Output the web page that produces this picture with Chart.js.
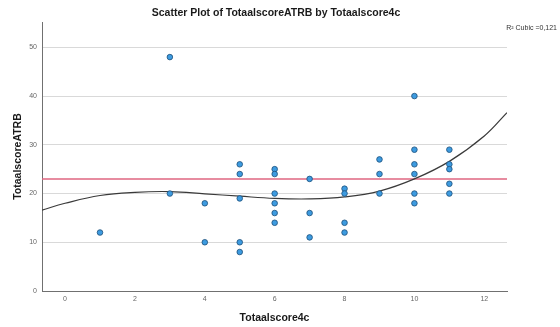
<!DOCTYPE html>
<html>
<head>
<meta charset="utf-8">
<script src="https://cdn.jsdelivr.net/npm/chart.js@4.4.1/dist/chart.umd.min.js"></script>
<style>
  html, body { margin: 0; padding: 0; background: #ffffff; }
  #wrap { width: 560px; height: 327px; }
</style>
</head>
<body>
<div id="wrap"><canvas id="chart" width="560" height="327"></canvas></div>
<script>
// Observations: Totaalscore4c (x) against TotaalscoreATRB (y)
const scoreX = [1, 3, 3, 4, 4, 5, 5, 5, 5, 5, 6, 6, 6, 6, 6, 6, 7, 7, 7, 8, 8, 8, 8, 9, 9, 9, 10, 10, 10, 10, 10, 10, 11, 11, 11, 11, 11];
const scoreY = [12, 48, 20, 18, 10, 26, 24, 19, 10, 8, 25, 24, 20, 18, 16, 14, 23, 16, 11, 21, 20, 14, 12, 27, 24, 20, 40, 29, 26, 24, 20, 18, 29, 26, 25, 22, 20];

// Cubic fit line, sampled along the x range
const fitX = [-0.66, 0, 1, 2, 3, 4, 5, 6, 7, 8, 9, 10, 11, 12, 12.65];
const fitY = [16.6, 18.0, 19.6, 20.25, 20.4, 19.95, 19.45, 19.0, 18.9, 19.3, 20.5, 23.0, 26.6, 31.8, 36.6];

// Horizontal reference line
const referenceY = 23;

// Axis ranges and tick labels
const xRange = [-0.66, 12.65];
const yRange = [0, 55.2];
const xTicks = [0, 2, 4, 6, 8, 10, 12];
const yTicks = [0, 10, 20, 30, 40, 50];

const fitLabel = 'R\u00B2 Cubic =0,121';
const chartTitle = 'Scatter Plot of TotaalscoreATRB by Totaalscore4c';

const points = scoreX.map((x, i) => ({ x: x, y: scoreY[i] }));
const fitPoints = fitX.map((x, i) => ({ x: x, y: fitY[i] }));
const refPoints = [{ x: xRange[0], y: referenceY }, { x: xRange[1], y: referenceY }];

const FONT = '"Liberation Sans", Arial, sans-serif';

const textPlugin = {
  id: 'headerText',
  afterDraw(chart) {
    const ctx = chart.ctx;
    ctx.save();
    ctx.fillStyle = '#1a1a1a';
    ctx.font = 'bold 10.5px ' + FONT;
    ctx.textAlign = 'center';
    ctx.textBaseline = 'middle';
    ctx.fillText(chartTitle, 276, 13.5);
    ctx.fillStyle = '#333333';
    ctx.font = '7px ' + FONT;
    ctx.textAlign = 'right';
    ctx.fillText(fitLabel, 557, 28);
    ctx.restore();
  }
};

new Chart(document.getElementById('chart'), {
  type: 'scatter',
  data: {
    datasets: [
      {
        label: 'Observations',
        data: points,
        pointRadius: 2.8,
        pointHoverRadius: 2.8,
        backgroundColor: '#3d9be0',
        borderColor: '#1d4f7a',
        borderWidth: 0.8,
        showLine: false
      },
      {
        label: 'Cubic',
        data: fitPoints,
        showLine: true,
        tension: 0.4,
        pointRadius: 0,
        borderColor: '#3a3a3a',
        borderWidth: 1.2,
        fill: false
      },
      {
        label: 'Reference',
        data: refPoints,
        showLine: true,
        pointRadius: 0,
        borderColor: '#df6680',
        borderWidth: 1.5,
        fill: false
      }
    ]
  },
  options: {
    responsive: false,
    animation: false,
    devicePixelRatio: 1,
    layout: { padding: { top: 22, right: 53, left: 0, bottom: 0 } },
    plugins: {
      legend: { display: false },
      title: { display: false },
      tooltip: { enabled: false }
    },
    scales: {
      x: {
        type: 'linear',
        min: xRange[0],
        max: xRange[1],
        afterBuildTicks(scale) { scale.ticks = xTicks.map(v => ({ value: v })); },
        afterFit(scale) { scale.height = 36; },
        grid: { display: false, drawTicks: false },
        border: { display: true, color: '#707070', width: 1 },
        ticks: {
          padding: 4,
          color: '#666666',
          font: { family: FONT, size: 7 },
          maxRotation: 0
        },
        title: {
          display: true,
          text: 'Totaalscore4c',
          color: '#1a1a1a',
          font: { family: FONT, size: 10.5, weight: 'bold' },
          padding: { top: 0, bottom: 2.5 }
        }
      },
      y: {
        type: 'linear',
        min: yRange[0],
        max: yRange[1],
        afterBuildTicks(scale) { scale.ticks = yTicks.map(v => ({ value: v })); },
        afterFit(scale) { scale.width = 42; },
        grid: { display: true, drawTicks: false, color: '#d9d9d9', lineWidth: 1 },
        border: { display: true, color: '#707070', width: 1 },
        ticks: {
          padding: 5,
          color: '#666666',
          font: { family: FONT, size: 7 }
        },
        title: {
          display: true,
          text: 'TotaalscoreATRB',
          color: '#1a1a1a',
          font: { family: FONT, size: 10.5, weight: 'bold' },
          padding: { top: 12, bottom: 0 }
        }
      }
    }
  },
  plugins: [textPlugin]
});
</script>
</body>
</html>
